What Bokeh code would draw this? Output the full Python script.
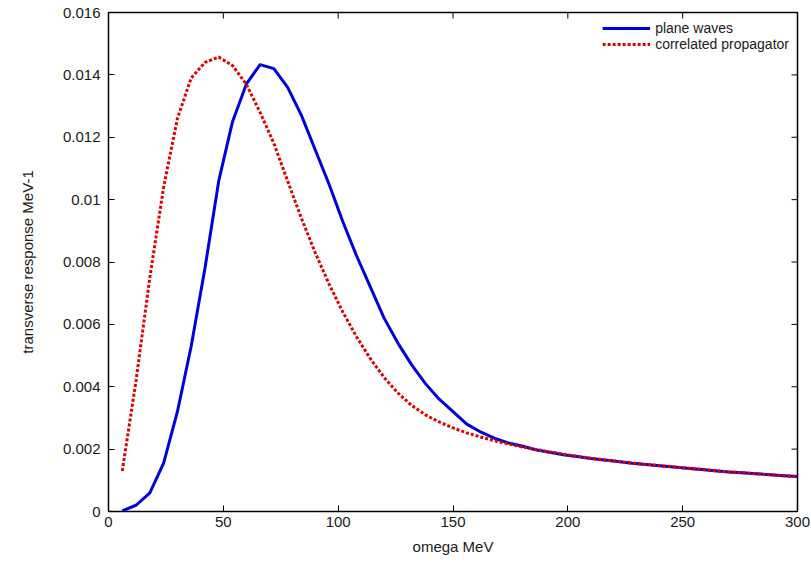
from bokeh.plotting import figure
from bokeh.models import (ColumnDataSource, FixedTicker, Range1d,
                          Legend, LegendItem)
from bokeh.embed import file_html
from bokeh.resources import INLINE

# ---------------- data ----------------
omega = [6, 12, 18, 24, 30, 36, 42, 48, 54, 60, 66, 72, 78, 84, 90, 96, 102,
         108, 114, 120, 126, 132, 138, 144, 150, 156, 162, 168, 174, 180, 186,
         192, 198, 204, 210, 216, 222, 228, 234, 240, 246, 252, 258, 264, 270,
         276, 282, 288, 294, 300]

plane_waves = [0.00002, 0.0002, 0.0006, 0.00155, 0.0032, 0.0053, 0.0078,
               0.0106, 0.0125, 0.0137, 0.01433, 0.0142, 0.0136, 0.0127,
               0.0116, 0.0105, 0.0093, 0.0082, 0.0072, 0.0062, 0.0054,
               0.0047, 0.0041, 0.0036, 0.0032, 0.0028, 0.00255, 0.00235,
               0.0022, 0.0021, 0.00198, 0.0019, 0.00182, 0.00176, 0.0017,
               0.00165, 0.0016, 0.00155, 0.00151, 0.00147, 0.00143, 0.00139,
               0.00135, 0.00131, 0.00127, 0.00124, 0.00121, 0.00118, 0.00115,
               0.00112]

correlated = [0.0013, 0.0042, 0.0075, 0.0104, 0.0126, 0.0139, 0.0144,
              0.01457, 0.0143, 0.0137, 0.0128, 0.0118, 0.0106, 0.0094,
              0.0083, 0.0073, 0.0064, 0.0056, 0.0049, 0.0043, 0.0038,
              0.0034, 0.0031, 0.00287, 0.00268, 0.00252, 0.00239, 0.00227,
              0.00217, 0.00207, 0.00199, 0.00191, 0.00184, 0.00177, 0.00171,
              0.00165, 0.0016, 0.00155, 0.00151, 0.00147, 0.00143, 0.00139,
              0.00135, 0.00131, 0.00127, 0.00124, 0.00121, 0.00118, 0.00115,
              0.00112]

x_ticks = [0, 50, 100, 150, 200, 250, 300]
y_ticks = [0, 0.002, 0.004, 0.006, 0.008, 0.01, 0.012, 0.014, 0.016]
y_tick_labels = ["0", "0.002", "0.004", "0.006", "0.008", "0.01", "0.012",
                 "0.014", "0.016"]

series_names = ["plane waves", "correlated propagator"]

# ---------------- figure ----------------
FONT = "Liberation Sans"
XMIN, XMAX = x_ticks[0], x_ticks[-1]
YMIN, YMAX = y_ticks[0], y_ticks[-1]
FW, FH = 689, 499

p = figure(frame_width=FW, frame_height=FH,
           x_range=Range1d(XMIN, XMAX), y_range=Range1d(YMIN, YMAX),
           output_backend="svg", toolbar_location=None,
           min_border_left=108, min_border_right=13,
           min_border_top=12, min_border_bottom=50,
           x_axis_label="omega MeV", y_axis_label="transverse response MeV-1")

p.background_fill_color = "white"
p.border_fill_color = "white"
p.outline_line_color = "black"
p.outline_line_width = 1.5
p.xgrid.visible = False
p.ygrid.visible = False

src = ColumnDataSource(dict(x=omega, pw=plane_waves, cp=correlated))
r1 = p.line("x", "pw", source=src, line_color="#0000dd", line_width=3)
r2 = p.line("x", "cp", source=src, line_color="#e00000", line_width=3,
            line_dash="3 2")

for ax in (p.xaxis[0], p.yaxis[0]):
    ax.major_tick_in = 6
    ax.major_tick_out = 0
    ax.minor_tick_line_color = None
    ax.axis_line_color = "black"
    ax.major_label_text_font = FONT
    ax.major_label_text_font_size = "15px"
    ax.major_label_text_color = "#1a1a1a"
    ax.axis_label_text_font = FONT
    ax.axis_label_text_font_size = "15px"
    ax.axis_label_text_font_style = "normal"
    ax.axis_label_text_color = "#1a1a1a"

p.xaxis[0].ticker = FixedTicker(ticks=x_ticks)
p.yaxis[0].ticker = FixedTicker(ticks=y_ticks)
p.yaxis[0].major_label_overrides = {t: l for t, l in zip(y_ticks, y_tick_labels)}
p.xaxis[0].major_label_standoff = 5
p.yaxis[0].major_label_standoff = 8
p.xaxis[0].axis_label_standoff = 8
p.yaxis[0].axis_label_standoff = 24

# mirrored inward ticks on the top and right edges of the frame
tick_dx = 6 * (XMAX - XMIN) / FW
tick_dy = 6 * (YMAX - YMIN) / FH
p.segment(x0=x_ticks, x1=x_ticks, y0=[YMAX] * len(x_ticks),
          y1=[YMAX - tick_dy] * len(x_ticks), line_color="black", line_width=1)
p.segment(x0=[XMAX] * len(y_ticks), x1=[XMAX - tick_dx] * len(y_ticks),
          y0=y_ticks, y1=y_ticks, line_color="black", line_width=1)

legend = Legend(items=[LegendItem(label=series_names[0], renderers=[r1]),
                       LegendItem(label=series_names[1], renderers=[r2])],
                location="top_right")
legend.background_fill_alpha = 0
legend.border_line_color = None
legend.label_text_font = FONT
legend.label_text_font_size = "14px"
legend.label_text_color = "#1a1a1a"
legend.glyph_width = 48
legend.glyph_height = 16
legend.label_height = 16
legend.spacing = 0
legend.padding = 4
legend.margin = 8
p.add_layout(legend)

open("out.html", "w").write(file_html(p, INLINE))
